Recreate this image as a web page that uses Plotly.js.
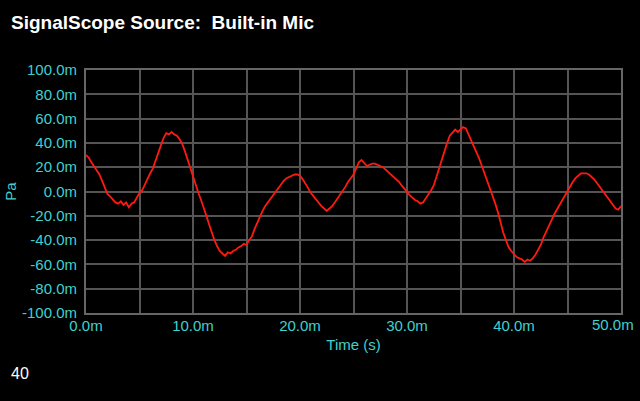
<!DOCTYPE html>
<html><head><meta charset="utf-8">
<script src="https://cdn.plot.ly/plotly-3.0.1.min.js"></script>
<style>html,body{margin:0;padding:0;background:#000;}#chart{width:640px;height:401px;}</style>
</head><body><div id="chart"></div>
<script>
// time step 0.25 ms, values in mPa
const timeStepMs = 0.25;
const pressureMilliPa = [
30,28,24,21,17,14,9,4,-2,-4,-7,-9,-10,-8,-11,-9,-13,-10,-9,-5,
-1,1,6,10,15,19,26,32,38,44,48,47,49,47,46,43,39,33,26,19,
12,6,-1,-7,-13,-20,-27,-34,-40,-45,-49,-51,-53,-50,-51,-49,-48,-46,-45,-43,
-44,-40,-37,-31,-26,-20,-16,-12,-9,-5,-2,1,4,7,9,11,12,13,14,14,
13,10,7,3,-1,-4,-7,-10,-12,-14,-16,-14,-12,-9,-6,-3,1,4,8,11,
14,19,24,26,23,21,22,23,23,22,21,20,18,16,14,12,10,8,5,2,
-1,-3,-5,-7,-8,-10,-9,-6,-3,1,5,12,20,27,34,40,46,49,51,49,
51,53,52,47,43,38,33,27,21,15,9,3,-3,-10,-17,-26,-34,-40,-46,-49,
-52,-54,-55,-56,-58,-56,-57,-55,-52,-48,-44,-38,-33,-28,-24,-19,-15,-11,-7,-4,
0,4,8,11,13,15,15,15,14,12,10,7,4,1,-2,-5,-8,-11,-14,-15,
-12
];
const xTickVals = [0,5,10,15,20,25,30,35,40,45,50];
const xTickText = ["0.0m","","10.0m","","20.0m","","30.0m","","40.0m","",""];
const xLastTickText = "50.0m";
const yTickVals = [100,80,60,40,20,0,-20,-40,-60,-80,-100];
const yTickText = ["100.0m","80.0m","60.0m","40.0m","20.0m","0.0m","-20.0m","-40.0m","-60.0m","-80.0m","-100.0m"];
const titleText = "SignalScope Source:\u00a0 Built-in Mic";
const xTitle = "Time (s)";
const yTitle = "Pa";
const pageLabel = "40";

const timeMs = pressureMilliPa.map((_, i) => i * timeStepMs);
const cyan = "#3fd0d0";
const gridCol = "#555555";

Plotly.newPlot("chart", [{
  x: timeMs, y: pressureMilliPa, type: "scatter", mode: "lines",
  line: {color: "#ff1a10", width: 1.8}, hoverinfo: "skip", cliponaxis: true
}], {
  width: 640, height: 401, autosize: false,
  paper_bgcolor: "#000", plot_bgcolor: "#000",
  margin: {l: 86, r: 19, t: 70, b: 88, autoexpand: false},
  showlegend: false,
  font: {family: "Liberation Sans, Arial, sans-serif", color: cyan, size: 15},
  title: {text: "<b>" + titleText + "</b>", x: 11/640, xref: "container", xanchor: "left", y: 1 - 22/401, yref: "container", yanchor: "middle",
          font: {size: 19, color: "#ffffff", family: "Liberation Sans, Arial, sans-serif"}},
  xaxis: {
    range: [0, 50], autorange: false, tickmode: "array", tickvals: xTickVals, ticktext: xTickText,
    showgrid: true, gridcolor: gridCol, gridwidth: 2, zeroline: false,
    showline: true, linecolor: "#666", linewidth: 2, mirror: true, ticks: "",
    tickfont: {color: cyan, size: 15}, ticklabelstandoff: -2,
    title: {text: xTitle, font: {color: cyan, size: 15}, standoff: 6}
  },
  yaxis: {
    range: [-100, 100], autorange: false, tickmode: "array", tickvals: yTickVals, ticktext: yTickText,
    showgrid: true, gridcolor: gridCol, gridwidth: 2, zeroline: false,
    showline: true, linecolor: "#666", linewidth: 2, mirror: true, ticks: "",
    tickfont: {color: cyan, size: 15}, ticklabelstandoff: 4,
    title: {text: yTitle, font: {color: cyan, size: 15}, standoff: 2}
  },
  annotations: [{
    text: pageLabel, xref: "paper", yref: "paper", x: -0.143, y: -0.25,
    xanchor: "left", yanchor: "middle", showarrow: false,
    font: {color: "#ffffff", size: 16, family: "Liberation Sans, Arial, sans-serif"}
  }, {
    text: xLastTickText, xref: "x", yref: "paper", x: xTickVals[xTickVals.length - 1], y: 0,
    xanchor: "right", yanchor: "top", xshift: 15, yshift: -1, showarrow: false,
    font: {color: cyan, size: 15, family: "Liberation Sans, Arial, sans-serif"}
  }]
}, {displayModeBar: false, staticPlot: true});
</script></body></html>
